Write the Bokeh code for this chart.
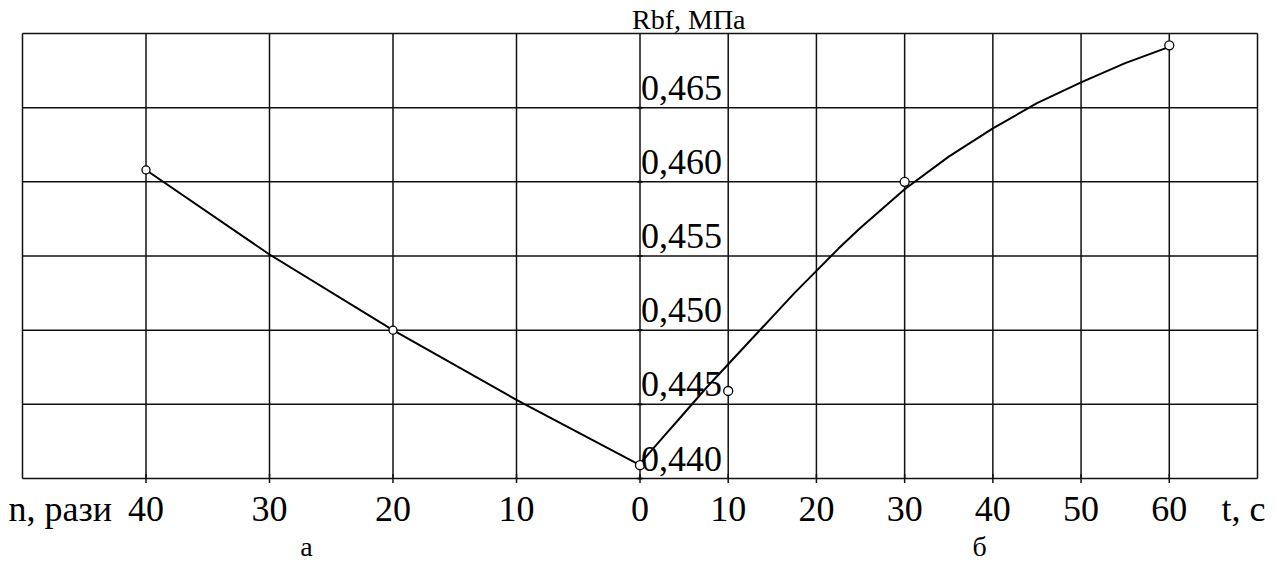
import math
from bokeh.plotting import figure
from bokeh.models import Range1d
from bokeh.core.properties import value
from bokeh.embed import file_html
from bokeh.resources import INLINE

# ---------------- data ----------------
# left panel (а): number of repetitions n
n_ticks = [40, 30, 20, 10, 0]
n_max = 50
n_points = [40, 20, 0]
r_n_points = [0.4608, 0.4500, 0.4409]
n_curve = [40, 30, 20, 10, 0]
r_n_curve = [0.4608, 0.4551, 0.4500, 0.4453, 0.4409]

# right panel (б): time t, s
t_ticks = [0, 10, 20, 30, 40, 50, 60]
t_max = 70
t_points = [0, 10, 30, 60]
r_t_points = [0.4409, 0.4459, 0.4600, 0.4692]
t_curve = [0, 2.5, 5, 7.5, 10, 12.5, 15, 17.5, 20, 22.5, 25, 27.5, 30,
           35, 40, 45, 50, 55, 60]
r_t_curve = [0.4410, 0.4427, 0.4444, 0.4461, 0.4477, 0.4493, 0.4509, 0.4525,
             0.4540, 0.4555, 0.4569, 0.4582, 0.4595,
             0.4617, 0.4636, 0.4653, 0.4667, 0.4680, 0.4691]

y_ticks = [0.440, 0.445, 0.450, 0.455, 0.460, 0.465]
y_labels = ["0,440", "0,445", "0,450", "0,455", "0,460", "0,465"]
y_min, y_max = 0.440, 0.470

# ---------------- layout ----------------
W, H = 1276, 563
FL, FR, FT, FB = 22, 1257, 33, 478   # chart box in pixels
FONT = value("Liberation Serif")
INK = "#111111"

sx_t = (FR - FL) / (2 * t_max)
sx_n = (FR - FL) / (2 * n_max)
sy = (FB - FT) / (y_max - y_min)

p = figure(width=W, height=H,
           x_range=Range1d(-t_max - FL / sx_t, t_max + (W - FR) / sx_t),
           y_range=Range1d(y_min - (H - FB) / sy, y_max + FT / sy),
           x_axis_location=None, y_axis_location=None,
           output_backend="svg", toolbar_location=None,
           min_border=0, min_border_left=0, min_border_right=0,
           min_border_top=0, min_border_bottom=0)
p.extra_x_ranges = {"n": Range1d(n_max + FL / sx_n, -n_max - (W - FR) / sx_n)}
p.xgrid.visible = False
p.ygrid.visible = False
p.outline_line_color = None
p.background_fill_color = "white"
p.border_fill_color = "white"

# tick positions on the shared (t) scale; left half carries the n scale
x_tick_pos = [-n * t_max / n_max for n in n_ticks if n > 0] + t_ticks
x_tick_lab = [str(n) for n in n_ticks if n > 0] + [str(t) for t in t_ticks]

# grid + frame
v_lines = [-t_max] + x_tick_pos + [t_max]
h_lines = y_ticks + [y_max]
p.segment(x0=v_lines, y0=[y_min] * len(v_lines), x1=v_lines, y1=[y_max] * len(v_lines),
          line_color=INK, line_width=1.5)
p.segment(x0=[-t_max] * len(h_lines), y0=h_lines, x1=[t_max] * len(h_lines), y1=h_lines,
          line_color=INK, line_width=1.5)
# tick marks below the base line and on the central axis
p.scatter(x=x_tick_pos, y=[y_min] * len(x_tick_pos), marker="dash", angle=math.pi / 2,
          size=9, line_color=INK, line_width=1.5)
p.scatter(x=[0] * len(y_ticks), y=y_ticks, marker="dash", size=5,
          line_color=INK, line_width=2)

# curves and measured points
p.line(n_curve, r_n_curve, x_range_name="n", line_color="black", line_width=2)
p.line(t_curve, r_t_curve, line_color="black", line_width=2)
p.scatter(n_points, r_n_points, x_range_name="n", size=8, marker="circle",
          fill_color="white", line_color="black", line_width=1.3)
p.scatter(t_points, r_t_points, size=9, marker="circle",
          fill_color="white", line_color="black", line_width=1.3)

# x tick labels
p.text(x=x_tick_pos, y=[y_min] * len(x_tick_pos), text=x_tick_lab,
       text_font=FONT, text_font_size="36px", text_color="black",
       text_align="center", text_baseline="alphabetic", y_offset=30)

# value labels along the central axis
p.text(x=[0] * len(y_ticks), y=y_ticks, text=y_labels,
       text_font=FONT, text_font_size="36px", text_color="black",
       text_align="left", text_baseline="alphabetic", x_offset=1, y_offset=-20)

p.text(x=[0], y=[y_max], text=["Rbf, МПа"], text_font=FONT, text_font_size="28px",
       text_color="black", text_align="left", text_baseline="alphabetic",
       x_offset=-8, y_offset=-14)
p.text(x=[n_max], y=[y_min], x_range_name="n", text=["n, рази"], text_font=FONT,
       text_font_size="36px", text_color="black", text_align="left",
       text_baseline="alphabetic", x_offset=-14, y_offset=30)
p.text(x=[t_max], y=[y_min], text=["t, с"], text_font=FONT, text_font_size="36px",
       text_color="black", text_align="right", text_baseline="alphabetic",
       x_offset=8, y_offset=30)
p.text(x=[27], y=[y_min], x_range_name="n", text=["а"], text_font=FONT,
       text_font_size="28px", text_color="black", text_align="center",
       text_baseline="alphabetic", y_offset=68)
p.text(x=[38.5], y=[y_min], text=["б"], text_font=FONT, text_font_size="28px",
       text_color="black", text_align="center", text_baseline="alphabetic", y_offset=68)

open("out.html", "w").write(file_html(p, INLINE))
